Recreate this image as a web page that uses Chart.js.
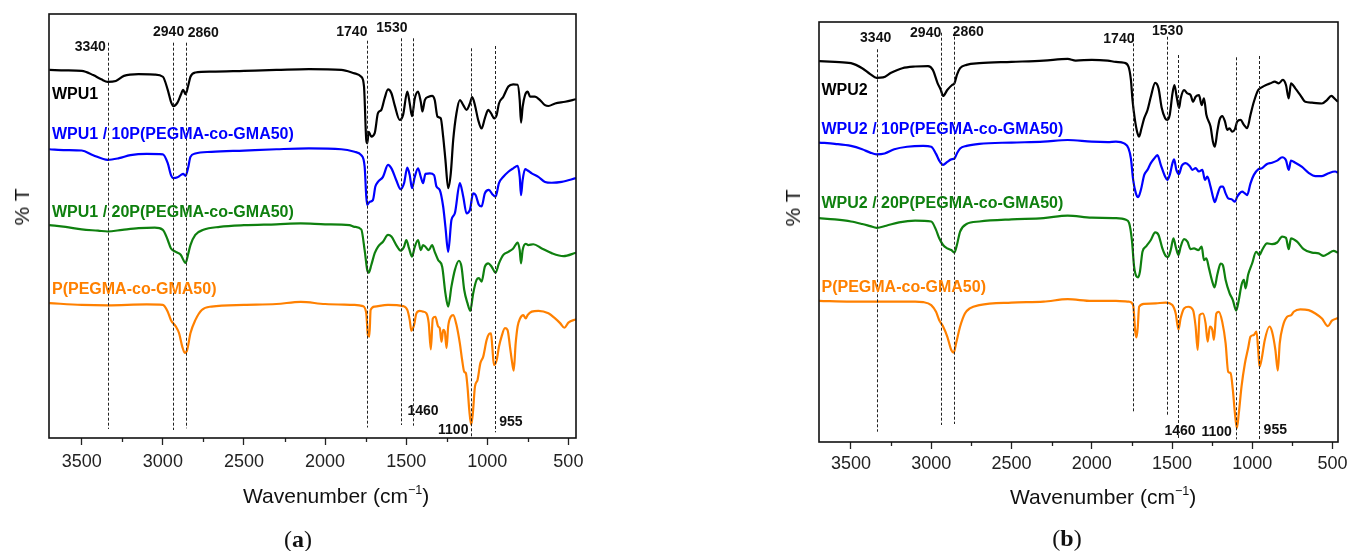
<!DOCTYPE html>
<html>
<head>
<meta charset="utf-8">
<script src="https://cdn.jsdelivr.net/npm/chart.js@4.4.1/dist/chart.umd.min.js"></script>
<style>
  html, body { margin: 0; padding: 0; background: #fff; overflow: hidden; }
  body { width: 1348px; height: 551px; position: relative; font-family: "Liberation Sans", Arial, sans-serif; }
  canvas { position: absolute; top: 0; }
  #chartA { left: 0; }
  #chartB { left: 674px; }
  .txt { position: absolute; white-space: nowrap; color: #111; }
  .ylab { font-size: 21px; transform: translate(-50%, -50%) rotate(-90deg); }
  .xlab { font-size: 21px; transform: translateY(-50%); }
  .xlab sup { font-size: 0.6em; vertical-align: 0.75em; line-height: 0; }
  .panel { font-family: "Liberation Serif", serif; font-size: 24px; transform: translate(-50%, -50%); }
</style>
</head>
<body>
<canvas id="chartA" width="674" height="551"></canvas>
<canvas id="chartB" width="674" height="551"></canvas>

<div class="txt ylab" style="left:22px; top:207px;">% T</div>
<div class="txt ylab" style="left:793px; top:208px;">% T</div>
<div class="txt xlab" style="left:243px; top:496px;">Wavenumber (cm<sup>&minus;1</sup>)</div>
<div class="txt xlab" style="left:1010px; top:497px;">Wavenumber (cm<sup>&minus;1</sup>)</div>
<div class="txt panel" style="left:298px; top:539px;">(<b>a</b>)</div>
<div class="txt panel" style="left:1067px; top:538px;">(<b>b</b>)</div>

<script>
// band positions marked with dashed lines (cm-1)
const bands = [3340, 2940, 2860, 1740, 1530, 1460, 1100, 955];
const xTicks = [3500, 3000, 2500, 2000, 1500, 1000, 500];

const namesA = ['WPU1', 'WPU1 / 10P(PEGMA-co-GMA50)', 'WPU1 / 20P(PEGMA-co-GMA50)', 'P(PEGMA-co-GMA50)'];
const namesB = ['WPU2', 'WPU2 / 10P(PEGMA-co-GMA50)', 'WPU2 / 20P(PEGMA-co-GMA50)', 'P(PEGMA-co-GMA50)'];
const colors = ['#000000', '#0000ff', '#0f800f', '#ff8000'];

// [wavenumber, %T offset] pairs
const wpu1 = [[3700,86.8],[3600,86.7],[3500,86.6],[3430,85.6],[3380,84.6],[3340,84.0],[3290,84.2],[3240,85.4],[3150,85.8],[3050,85.7],[3000,85.2],[2970,82.1],[2950,79.3],[2935,78.3],[2910,79.1],[2890,80.9],[2875,82.1],[2860,81.1],[2845,82.9],[2830,85.2],[2800,86.2],[2700,86.4],[2500,86.6],[2300,86.8],[2100,87.0],[1900,86.8],[1818,86.0],[1777,85.2],[1760,82.9],[1746,70.3],[1740,69.5],[1731,72.2],[1715,71.1],[1694,71.9],[1674,76.6],[1653,77.4],[1633,80.1],[1612,82.2],[1591,81.3],[1571,78.5],[1540,75.0],[1519,76.2],[1493,81.7],[1478,78.9],[1464,75.9],[1447,80.1],[1427,81.7],[1410,79.3],[1400,77.0],[1385,79.7],[1361,80.5],[1340,80.7],[1324,79.7],[1307,75.8],[1287,75.4],[1272,71.1],[1258,65.6],[1241,58.9],[1225,62.4],[1210,70.3],[1190,76.6],[1169,79.7],[1148,78.5],[1128,77.4],[1107,78.9],[1093,80.4],[1076,78.5],[1056,75.0],[1035,73.0],[1015,75.4],[994,77.4],[977,76.6],[957,75.4],[942,76.2],[928,78.9],[901,80.5],[870,82.9],[840,83.4],[813,83.3],[800,79.7],[792,74.4],[782,78.1],[767,80.9],[751,81.7],[736,80.5],[706,80.5],[675,79.7],[644,78.5],[623,78.3],[582,78.9],[520,79.3],[453,79.9]];
const wpu1p10 = [[3700,68.1],[3600,67.9],[3500,67.8],[3430,66.7],[3340,65.6],[3270,66.0],[3200,66.7],[3100,67.0],[3000,66.9],[2970,64.8],[2950,62.0],[2935,61.3],[2910,61.5],[2890,62.0],[2875,62.3],[2860,61.8],[2845,63.6],[2830,66.3],[2800,67.1],[2700,67.5],[2500,67.8],[2300,68.1],[2100,68.3],[1900,68.1],[1818,67.5],[1777,66.7],[1756,64.0],[1746,57.0],[1740,55.0],[1725,55.7],[1705,56.1],[1690,59.3],[1674,60.4],[1643,61.6],[1612,64.4],[1591,63.6],[1561,60.8],[1534,58.7],[1513,60.1],[1493,63.8],[1478,62.0],[1464,58.9],[1447,61.6],[1427,63.6],[1410,61.6],[1396,60.1],[1381,62.3],[1354,62.4],[1328,62.0],[1313,59.3],[1293,58.5],[1272,54.6],[1258,49.8],[1241,43.9],[1221,51.4],[1200,53.0],[1169,60.1],[1148,56.9],[1128,53.0],[1107,53.8],[1087,57.7],[1072,57.3],[1052,55.0],[1035,54.6],[1015,57.7],[990,58.5],[969,57.5],[949,56.9],[928,60.1],[901,61.6],[870,62.8],[840,63.6],[813,64.2],[800,61.6],[792,57.3],[782,60.8],[767,63.4],[751,63.1],[726,62.4],[685,61.6],[644,60.4],[603,60.2],[541,60.4],[453,61.3]];
const wpu1p20 = [[3700,50.2],[3600,49.8],[3500,49.2],[3400,48.9],[3340,48.7],[3250,49.1],[3150,49.5],[3050,49.6],[3000,49.1],[2970,46.7],[2950,44.7],[2920,43.9],[2890,43.2],[2860,41.3],[2845,43.2],[2830,45.5],[2800,47.9],[2750,49.1],[2650,49.8],[2500,50.2],[2300,50.4],[2150,50.6],[2000,50.4],[1850,50.2],[1818,49.8],[1777,49.2],[1756,44.3],[1740,39.6],[1731,39.0],[1715,40.8],[1694,43.6],[1674,45.1],[1643,46.3],[1612,47.9],[1591,47.5],[1561,45.5],[1534,44.2],[1513,45.1],[1499,46.7],[1482,44.7],[1464,42.8],[1447,45.1],[1427,46.7],[1410,44.3],[1396,45.5],[1381,45.1],[1361,44.3],[1340,45.5],[1324,43.9],[1303,42.0],[1278,40.4],[1258,34.1],[1241,31.0],[1221,35.7],[1200,39.6],[1175,41.8],[1159,40.4],[1142,34.9],[1122,31.8],[1105,30.0],[1087,34.1],[1066,37.3],[1052,37.7],[1035,36.9],[1015,40.4],[994,41.2],[973,40.4],[949,39.0],[928,41.2],[901,43.2],[870,43.9],[840,44.7],[813,46.1],[800,44.3],[792,41.2],[782,44.3],[763,45.8],[747,45.5],[716,45.7],[664,44.7],[603,43.6],[530,42.9],[453,43.7]];
const pegmaA = [[3700,31.8],[3500,31.4],[3340,31.3],[3100,31.5],[3000,31.4],[2970,29.8],[2950,27.8],[2920,26.3],[2900,24.7],[2880,21.5],[2865,20.1],[2850,20.8],[2830,24.7],[2800,27.8],[2760,30.2],[2700,31.0],[2500,31.4],[2300,31.6],[2150,32.1],[2000,31.6],[1818,31.4],[1767,31.1],[1746,29.4],[1736,24.3],[1727,23.9],[1719,30.2],[1694,31.0],[1612,31.4],[1519,31.1],[1493,30.2],[1478,27.8],[1468,25.3],[1451,26.7],[1437,29.4],[1416,30.0],[1396,29.8],[1375,29.4],[1361,27.1],[1348,20.9],[1336,28.2],[1320,28.6],[1303,26.3],[1293,25.9],[1282,22.7],[1272,25.5],[1262,25.1],[1251,21.2],[1241,26.3],[1225,28.6],[1210,29.0],[1190,26.7],[1169,22.3],[1155,18.4],[1142,15.6],[1132,15.3],[1122,12.1],[1111,6.6],[1099,3.1],[1089,5.8],[1076,12.1],[1060,13.7],[1043,17.6],[1025,19.2],[1004,23.1],[990,24.5],[977,24.7],[969,21.5],[959,17.2],[942,18.4],[928,21.5],[912,23.9],[891,25.9],[875,25.5],[860,21.5],[846,17.6],[837,15.9],[825,22.3],[813,26.3],[798,28.2],[778,29.0],[763,28.2],[751,29.0],[726,29.8],[685,30.0],[623,29.4],[582,28.2],[551,27.1],[524,26.0],[500,27.2],[453,28.0]];

const wpu2 = [[3699,90.7],[3600,90.5],[3500,90.2],[3430,89.0],[3380,87.6],[3340,86.7],[3300,86.8],[3250,87.9],[3180,89.0],[3100,89.4],[3020,89.5],[2990,88.6],[2960,85.4],[2940,83.8],[2926,82.4],[2900,83.8],[2870,85.0],[2855,85.4],[2840,87.4],[2820,89.0],[2780,89.8],[2700,90.2],[2500,90.5],[2300,90.8],[2150,91.2],[2100,90.8],[2000,91.0],[1900,90.8],[1849,90.5],[1798,90.3],[1771,89.4],[1756,86.2],[1746,81.4],[1731,76.7],[1715,73.5],[1705,72.7],[1690,74.7],[1673,77.1],[1653,79.0],[1632,82.2],[1605,85.5],[1584,84.2],[1564,79.5],[1543,77.1],[1529,76.7],[1514,77.9],[1497,83.0],[1485,85.0],[1471,82.2],[1456,79.5],[1446,81.8],[1425,83.8],[1404,83.0],[1384,82.6],[1369,81.0],[1353,82.2],[1332,82.6],[1315,80.2],[1301,81.8],[1286,77.9],[1260,75.1],[1245,71.5],[1233,70.3],[1218,73.9],[1204,76.7],[1187,77.6],[1170,76.3],[1156,74.3],[1142,74.7],[1125,73.9],[1108,74.5],[1094,76.3],[1073,76.7],[1052,75.5],[1032,74.7],[1011,77.9],[990,81.0],[963,83.8],[939,84.5],[914,85.0],[887,85.4],[860,85.8],[835,85.4],[810,86.2],[790,85.0],[773,81.8],[759,85.4],[732,84.2],[701,82.6],[670,81.0],[628,80.8],[566,80.6],[535,81.4],[508,82.4],[483,81.6],[466,81.0]];
const wpu2p10 = [[3699,71.3],[3600,71.0],[3500,70.5],[3430,69.7],[3380,68.9],[3340,68.5],[3290,68.7],[3230,69.7],[3150,70.3],[3050,70.5],[3000,70.3],[2970,68.6],[2950,67.0],[2926,66.0],[2900,66.7],[2875,67.3],[2855,67.5],[2840,68.7],[2820,69.9],[2780,70.5],[2700,71.0],[2500,71.3],[2300,71.5],[2150,71.9],[2000,71.5],[1900,71.4],[1849,71.5],[1798,71.1],[1771,69.9],[1756,67.5],[1742,62.4],[1725,59.2],[1711,58.3],[1694,60.0],[1673,63.6],[1653,64.8],[1632,66.4],[1611,67.5],[1591,68.3],[1570,66.0],[1543,63.2],[1529,62.4],[1514,63.6],[1497,66.4],[1487,67.3],[1473,64.8],[1456,63.8],[1440,65.7],[1415,66.4],[1390,65.7],[1373,64.8],[1353,65.2],[1332,64.4],[1311,64.8],[1295,62.4],[1280,63.2],[1260,60.8],[1245,58.4],[1233,57.1],[1218,58.8],[1197,60.8],[1183,60.8],[1166,59.2],[1150,58.0],[1129,57.8],[1108,57.2],[1094,58.4],[1079,59.2],[1063,59.6],[1046,59.2],[1032,58.8],[1011,61.6],[990,63.6],[963,64.9],[939,65.2],[908,66.2],[877,66.5],[845,67.0],[814,67.8],[790,67.1],[773,64.8],[759,67.0],[732,66.5],[690,65.5],[649,64.1],[607,63.3],[566,63.3],[525,64.0],[483,64.4],[466,64.1]];
const wpu2p20 = [[3699,53.3],[3600,53.0],[3500,52.5],[3430,51.9],[3380,51.4],[3340,51.0],[3280,51.5],[3200,52.3],[3100,52.7],[3000,52.5],[2970,50.5],[2950,48.5],[2926,46.9],[2900,46.1],[2875,45.7],[2855,45.1],[2840,46.9],[2820,50.1],[2780,51.9],[2700,52.5],[2500,53.0],[2300,53.3],[2150,53.9],[2000,53.4],[1849,53.3],[1787,52.9],[1767,52.1],[1750,48.1],[1736,41.7],[1721,39.4],[1711,39.2],[1700,40.5],[1684,45.3],[1663,46.5],[1632,48.1],[1605,49.9],[1584,49.3],[1560,46.1],[1539,44.3],[1524,44.1],[1508,45.7],[1491,48.5],[1477,46.5],[1460,44.5],[1446,46.5],[1425,48.3],[1404,47.7],[1384,45.9],[1363,46.1],[1336,45.7],[1315,46.5],[1301,43.3],[1286,43.7],[1270,41.4],[1249,38.2],[1235,36.8],[1218,39.8],[1197,42.5],[1183,42.1],[1166,38.6],[1141,35.4],[1121,33.8],[1100,31.3],[1084,33.8],[1067,37.4],[1052,38.6],[1042,36.6],[1026,39.8],[1001,42.5],[976,45.3],[955,44.5],[939,45.7],[908,47.3],[877,47.1],[845,47.5],[814,48.9],[790,48.6],[773,45.9],[759,48.5],[721,47.7],[680,45.9],[628,45.1],[587,44.9],[556,44.3],[525,44.9],[494,45.5],[466,45.1]];
const pegmaB = [[3699,33.6],[3500,33.4],[3340,33.4],[3100,33.4],[3050,33.3],[3000,32.6],[2970,31.0],[2950,29.0],[2926,27.5],[2900,25.1],[2875,21.9],[2860,21.3],[2845,23.5],[2820,27.5],[2790,30.6],[2760,31.8],[2700,32.6],[2500,33.2],[2300,33.4],[2150,34.0],[2000,33.6],[1849,33.6],[1767,33.4],[1742,32.6],[1729,26.3],[1721,24.9],[1713,27.5],[1705,32.2],[1673,32.9],[1601,33.0],[1539,33.2],[1498,32.6],[1477,30.6],[1460,26.8],[1446,29.5],[1425,31.8],[1398,32.2],[1369,31.4],[1353,27.5],[1340,21.9],[1328,30.2],[1307,30.6],[1291,28.3],[1278,23.9],[1264,27.5],[1249,26.7],[1239,24.3],[1224,30.6],[1208,31.0],[1187,28.6],[1166,23.5],[1150,16.7],[1135,16.4],[1121,12.4],[1108,6.8],[1096,3.3],[1084,6.8],[1067,13.2],[1046,18.7],[1026,22.3],[1011,25.1],[990,25.5],[974,26.3],[963,21.9],[955,17.9],[943,19.5],[922,24.3],[893,27.5],[877,26.3],[856,21.9],[841,17.0],[829,23.5],[810,27.5],[783,29.8],[757,30.2],[742,31.0],[701,31.6],[649,31.4],[607,30.6],[566,29.4],[529,27.6],[504,28.9],[466,29.5]];

Chart.defaults.font.family = '"Liberation Sans", Arial, sans-serif';
Chart.defaults.color = '#222';

// draws the frame, minor ticks, dashed band lines and all in-plot labels
const overlay = {
  id: 'overlay',
  afterDraw(chart, args, o) {
    const { ctx, chartArea: a, scales: { x } } = chart;
    ctx.save();

    ctx.strokeStyle = '#222';
    ctx.lineWidth = 1;
    ctx.setLineDash([3, 2]);
    bands.forEach((wn, i) => {
      const px = Math.round(x.getPixelForValue(wn)) + 0.5;
      const m = o.lines[i];
      ctx.beginPath();
      ctx.moveTo(px, a.top + m[0]);
      ctx.lineTo(px, a.top + m[1]);
      ctx.stroke();
    });
    ctx.setLineDash([]);

    ctx.fillStyle = '#111';
    ctx.font = 'bold 14px "Liberation Sans", Arial, sans-serif';
    ctx.textAlign = 'center';
    ctx.textBaseline = 'middle';
    bands.forEach((wn, i) => {
      const t = o.tags[i];
      ctx.fillText(String(wn), x.getPixelForValue(wn) + t[0], a.top + t[1]);
    });

    ctx.font = 'bold 16px "Liberation Sans", Arial, sans-serif';
    ctx.textAlign = 'left';
    chart.data.datasets.forEach((ds, i) => {
      ctx.fillStyle = ds.borderColor;
      ctx.fillText(ds.label, a.left + o.nameX, a.top + o.nameY[i]);
    });

    // minor ticks halfway between the labelled ones
    ctx.strokeStyle = '#222';
    ctx.lineWidth = 1.3;
    for (let i = 0; i < xTicks.length - 1; i++) {
      const px = Math.round(x.getPixelForValue((xTicks[i] + xTicks[i + 1]) / 2)) + 0.5;
      ctx.beginPath();
      ctx.moveTo(px, a.bottom);
      ctx.lineTo(px, a.bottom + 4);
      ctx.stroke();
    }

    ctx.strokeStyle = '#111';
    ctx.lineWidth = 1.6;
    ctx.strokeRect(a.left, a.top, a.right - a.left, a.bottom - a.top);
    ctx.restore();
  }
};

function makeChart(id, series, names, xMin, xMax, pad, tickPad, layout) {
  return new Chart(id, {
    type: 'line',
    data: {
      datasets: series.map((s, i) => ({
        label: names[i],
        data: s.map(p => ({ x: p[0], y: p[1] })),
        borderColor: colors[i],
        borderWidth: 2.2,
        pointRadius: 0,
        fill: false,
        cubicInterpolationMode: 'monotone'
      }))
    },
    options: {
      responsive: false,
      animation: false,
      devicePixelRatio: 1,
      layout: { padding: pad },
      plugins: {
        legend: { display: false },
        tooltip: { enabled: false },
        overlay: layout
      },
      scales: {
        x: {
          type: 'linear',
          reverse: true,
          min: xMin,
          max: xMax,
          afterBuildTicks: s => { s.ticks = xTicks.map(v => ({ value: v })); },
          afterFit: s => { s.height = 40; s.paddingLeft = 0; s.paddingRight = 0; },
          border: { display: false },
          grid: { drawOnChartArea: false, tickLength: 7, tickColor: '#222', tickWidth: 1.3 },
          ticks: {
            font: { size: 18 }, color: '#222', padding: tickPad, maxRotation: 0, autoSkip: false,
            callback: v => String(v)
          }
        },
        y: { display: false, min: 0, max: 100 }
      }
    },
    plugins: [overlay]
  });
}

makeChart('chartA', [wpu1, wpu1p10, wpu1p20, pegmaA], namesA, 453, 3702,
  { left: 49, right: 98, top: 14, bottom: 73 }, 6, {
    lines: [[28.7, 415], [28.7, 416], [28.7, 414.3], [26.7, 413.5], [24.3, 411], [24.3, 411.7], [34.3, 422.7], [32, 418.3]],
    tags: [[-17.5, 32.7], [-4, 17.7], [17.7, 19.3], [-15.4, 18.3], [-9.4, 14.3], [10.4, 396.7], [-17.8, 416], [16.4, 407.7]],
    nameX: 3,
    nameY: [81, 121, 198.3, 276]
  });

makeChart('chartB', [wpu2, wpu2p10, wpu2p20, pegmaB], namesB, 466, 3699,
  { left: 145, right: 10, top: 22, bottom: 69 }, 4, {
    lines: [[27.3, 409.7], [10.7, 403], [9.7, 402], [11.3, 391.3], [14.7, 393], [33, 416.3], [35.3, 417.3], [34, 417.3]],
    tags: [[-1, 15.7], [-15.2, 11.3], [14.5, 10.3], [-14.6, 17], [0.4, 8.7], [1.6, 408.7], [-19.5, 409.7], [15.8, 408]],
    nameX: 2.5,
    nameY: [68.7, 107.3, 181.3, 265.3]
  });
</script>
</body>
</html>
